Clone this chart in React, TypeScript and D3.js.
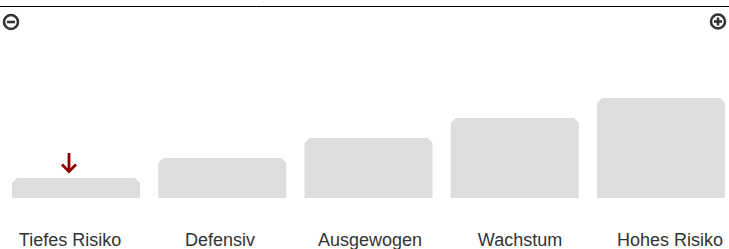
import React from "react";
import * as d3 from "d3";

const categories = ["Tiefes Risiko", "Defensiv", "Ausgewogen", "Wachstum", "Hohes Risiko"];
const values = [1, 2, 3, 4, 5];
const selectedIndex = 0;

const W = 729;
const H = 249;

export default function App() {
  const x = d3.scaleBand<string>().domain(categories).range([12, 725]).paddingInner(0.125).paddingOuter(0);
  const y = d3.scaleLinear().domain([0, 5]).range([198, 98]);
  const labelX = d3.scalePoint<string>().domain(categories).range([70, 670]);
  const c = 5;

  const barPath = (i: number) => {
    const x0 = x(categories[i])!;
    const x1 = x0 + x.bandwidth();
    const y0 = y(values[i]);
    const yb = y(0);
    const p = d3.path();
    p.moveTo(x0, yb);
    p.lineTo(x0, y0 + c);
    p.lineTo(x0 + c, y0);
    p.lineTo(x1 - c, y0);
    p.lineTo(x1, y0 + c);
    p.lineTo(x1, yb);
    p.closePath();
    return p.toString();
  };

  const ax = 69;
  const ayTop = y(values[selectedIndex]) - 25;
  const ayBot = y(values[selectedIndex]) - 5;

  return (
    <svg width={W} height={H} style={{ position: "absolute", left: 0, top: 0, fontFamily: "'Liberation Sans', Arial, sans-serif" }}>
      <line x1={0} x2={W} y1={6.5} y2={6.5} stroke="#000" strokeWidth={1} />
      <g stroke="#333" strokeWidth={2.6} fill="none">
        <circle cx={11} cy={22} r={7} />
        <line x1={7} x2={15} y1={22} y2={22} />
        <circle cx={718} cy={21.5} r={7} />
        <line x1={714} x2={722} y1={21.5} y2={21.5} />
        <line x1={718} x2={718} y1={17.5} y2={25.5} />
      </g>
      {categories.map((cat, i) => (
        <path key={cat} d={barPath(i)} fill="#dddddd" />
      ))}
      <g stroke="#8b0000" strokeWidth={2.8} fill="none" strokeLinecap="butt">
        <line x1={ax} x2={ax} y1={ayTop} y2={ayBot - 1} />
        <polyline points={`${ax - 7},${ayBot - 8.5} ${ax},${ayBot - 1.5} ${ax + 7},${ayBot - 8.5}`} />
      </g>
      {categories.map((cat) => (
        <text key={cat} x={labelX(cat)} y={246} textAnchor="middle" fontSize={18} fill="#333" style={{ fontFamily: "'Liberation Sans', Arial, sans-serif" }}>
          {cat}
        </text>
      ))}
    </svg>
  );
}
